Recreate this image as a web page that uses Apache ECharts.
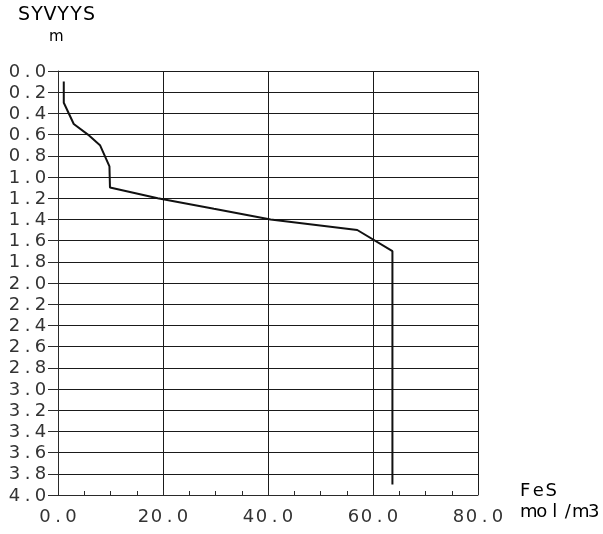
<!DOCTYPE html>
<html>
<head>
<meta charset="utf-8">
<style>
  html, body { margin: 0; padding: 0; background: #fff; }
  #chart { width: 603px; height: 534px; }
</style>
<script src="https://cdn.jsdelivr.net/npm/echarts@6/dist/echarts.min.js"></script>
</head>
<body>
<div id="chart"></div>
<script>
// FeS concentration profile against depth
const depthM = [0.1, 0.3, 0.5, 0.6, 0.7, 0.9, 1.1, 1.2, 1.3, 1.4, 1.5, 1.7, 3.9];
const fesMolM3 = [1.1, 1.1, 3.0, 5.7, 8.0, 9.8, 9.9, 19.0, 29.7, 40.5, 57.0, 63.7, 63.7];

const depthTicks = { min: 0, max: 4, step: 0.2 };
const fesTicks = { min: 0, max: 80, step: 20 };

const yTitle = 'SYVYYS';
const yUnit = 'm';
const xTitle = 'FeS';
const xUnit = 'mol/m3';

const INK = '#2a2a2a';
const FONT = 'DejaVu Sans';

// plotter-style text: every character sits in a fixed-width cell
function cells(s) {
  return s.split('').map(ch => '{c|' + ch + '}').join('');
}
const cellRich = {
  c: { width: 13, align: 'center', fontFamily: FONT, fontSize: 18, color: '#333' }
};
const titleRich = {
  c: { width: 13, align: 'center', fontFamily: FONT, fontSize: 19, color: '#333' }
};
const unitRich = {
  c: { width: 13, align: 'center', fontFamily: FONT, fontSize: 15, color: '#333' }
};

const chart = echarts.init(document.getElementById('chart'), null, { renderer: 'canvas' });

chart.setOption({
  animation: false,
  backgroundColor: '#fff',
  grid: { left: 58, right: 125, top: 71, bottom: 39, containLabel: false },
  xAxis: {
    type: 'value',
    position: 'bottom',
    min: fesTicks.min,
    max: fesTicks.max,
    interval: fesTicks.step,
    axisLine: { show: true, onZero: false, lineStyle: { color: INK, width: 1 } },
    axisTick: { show: true, inside: true, length: 5, lineStyle: { color: INK } },
    minorTick: { show: true, splitNumber: 4, length: 4, lineStyle: { color: INK } },
    splitLine: { show: true, lineStyle: { color: '#1a1a1a', width: 1 } },
    axisLabel: {
      margin: 13,
      formatter: v => cells(v.toFixed(1)),
      rich: cellRich
    }
  },
  yAxis: {
    type: 'value',
    inverse: true,
    min: depthTicks.min,
    max: depthTicks.max,
    interval: depthTicks.step,
    axisLine: { show: true, onZero: false, lineStyle: { color: INK, width: 1 } },
    axisTick: { show: true, inside: false, length: 10, lineStyle: { color: INK } },
    splitLine: { show: true, lineStyle: { color: '#1a1a1a', width: 1 } },
    axisLabel: {
      margin: 11,
      padding: [2, 0, 0, 0],
      formatter: v => cells(v.toFixed(1)),
      rich: cellRich
    }
  },
  graphic: [
    { type: 'text', left: 18, top: 6, style: { text: cells(yTitle), rich: titleRich } },
    { type: 'text', left: 49, top: 30, style: { text: cells(yUnit), rich: unitRich } },
    { type: 'text', left: 520, top: 482, style: { text: cells(xTitle), rich: cellRich } },
    { type: 'text', left: 520, top: 503, style: { text: cells(xUnit), rich: cellRich } }
  ],
  series: [{
    type: 'line',
    data: fesMolM3.map((v, i) => [v, depthM[i]]),
    symbol: 'none',
    lineStyle: { color: '#111', width: 2 },
    z: 5
  }]
});
</script>
</body>
</html>
